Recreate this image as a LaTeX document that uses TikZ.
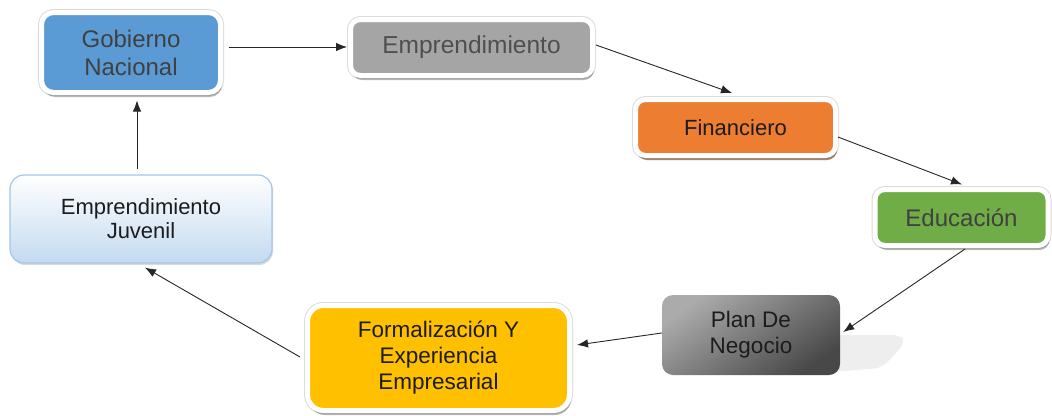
\documentclass[tikz,border=0pt]{standalone}
\usepackage{fontspec}
\setmainfont{Liberation Sans}
\usetikzlibrary{shadows,calc,arrows.meta}
\definecolor{gobblue}{HTML}{5B9BD5}
\definecolor{empgray}{HTML}{A5A5A5}
\definecolor{finorange}{HTML}{ED7D31}
\definecolor{edugreen}{HTML}{70AD47}
\definecolor{formyellow}{HTML}{FFC000}
\definecolor{juvtop}{HTML}{FFFFFF}
\definecolor{juvbot}{HTML}{C3DAF0}
\definecolor{juvline}{HTML}{A4C6E8}
\definecolor{plantop}{HTML}{ABABAB}
\definecolor{planbot}{HTML}{484848}
\definecolor{txtdark}{HTML}{404040}
\definecolor{txtmid}{HTML}{4F4F4F}
\definecolor{txtblack}{HTML}{1C1C1C}
\definecolor{frameedge}{HTML}{DCDCDC}
\tikzset{
  framed/.style={draw=white, line width=5pt, align=center, inner sep=0pt,
    preaction={draw=frameedge, line width=7pt},
    drop shadow={shadow xshift=1.5pt, shadow yshift=-4.5pt, opacity=0.28, fill=black}},
  conn/.style={-{Latex[length=11pt,width=8.5pt]}, line width=0.9pt, black!85},
}
\begin{document}
\begin{tikzpicture}[x=1pt,y=-1pt]
\useasboundingbox (0,0) rectangle (1052,415);
% shadow-like reflection behind plan
\fill[gray!13, rounded corners=8pt] (830,335) -- (900,335) -- (906,342) -- (882,368) -- (830,372) -- cycle;
\node[framed, fill=gobblue, rounded corners=12pt, minimum width=179pt, minimum height=80pt,
  font=\fontsize{24}{28}\selectfont, text=txtdark] (gob) at (131,52.5) {Gobierno\\Nacional};
\node[framed, fill=empgray, rounded corners=10pt, minimum width=242pt, minimum height=56pt,
  font=\fontsize{24.5}{28}\selectfont, text=txtmid] (emp) at (471.5,47.5) {Emprendimiento};
\node[framed, fill=finorange, rounded corners=10pt, minimum width=200pt, minimum height=56pt,
  font=\fontsize{22}{26}\selectfont, text=txtblack,
  drop shadow={shadow xshift=1.5pt, shadow yshift=-4.5pt, opacity=0.45, fill=finorange!60!black}] (fin) at (735.5,127.5) {Financiero};
\node[framed, fill=edugreen, rounded corners=10pt, minimum width=173pt, minimum height=56pt,
  font=\fontsize{24}{28}\selectfont, text=txtdark] (edu) at (961.5,217.5) {Educación};
\node[draw=none, top color=plantop, bottom color=planbot, shading angle=35, rounded corners=11pt,
  minimum width=178pt, minimum height=80pt, align=center, inner sep=0pt,
  font=\fontsize{22.5}{26}\selectfont, text=txtblack] (plan) at (751,335) {Plan De\\Negocio};
\node[framed, fill=formyellow, rounded corners=16pt, minimum width=262pt, minimum height=105pt,
  font=\fontsize{22.5}{26}\selectfont, text=txtblack] (form) at (438.5,358) {Formalización Y\\Experiencia\\Empresarial};
\node[draw=juvline, line width=1.2pt, top color=juvtop, bottom color=juvbot, rounded corners=14pt,
  minimum width=262pt, minimum height=88pt, align=center, inner sep=0pt,
  drop shadow={shadow xshift=1pt, shadow yshift=-2pt, opacity=0.15, fill=black},
  font=\fontsize{22}{24}\selectfont, text=txtblack] (juv) at (141,219) {Emprendimiento\\Juvenil};
% connectors
\draw[conn] ($(gob.east)+(5.5,-5.5)$) -- ($(emp.west)+(-1,-0.5)$);
\draw[conn] ($(emp.east)+(1,-2.5)$) -- ($(fin.north)+(-3.5,-4)$);
\draw[conn] ($(fin.east)+(0,9.5)$) -- ($(edu.north)+(0.5,-2.5)$);
\draw[conn] ($(edu.south)+(3.5,1)$) -- ($(plan.east)+(3,-3)$);
\draw[conn] ($(plan.west)+(0,-2)$) -- ($(form.east)+(5,-13)$);
\draw[conn] ($(form.west)+(-5,-1)$) -- ($(juv.south)+(4,4)$);
\draw[conn] ($(juv.north)+(-4,-5)$) -- ($(gob.south)+(6,5.5)$);
\end{tikzpicture}
\end{document}
